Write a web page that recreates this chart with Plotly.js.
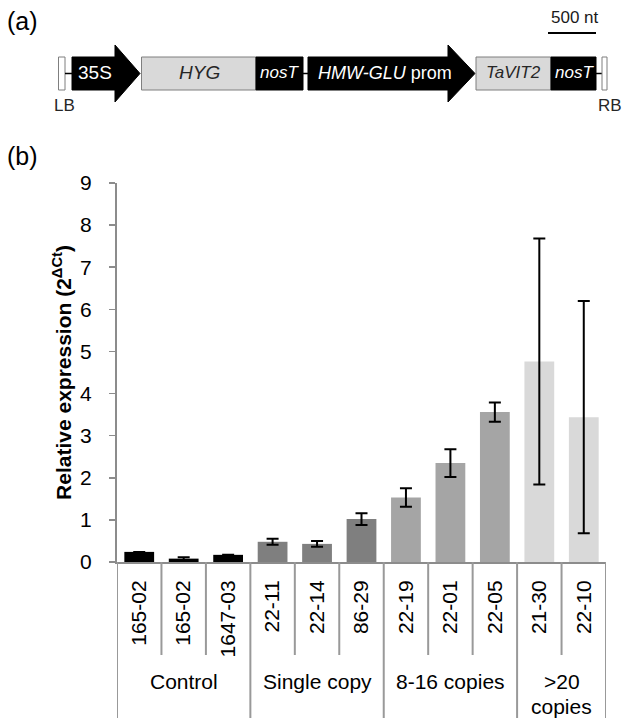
<!DOCTYPE html>
<html>
<head>
<meta charset="utf-8">
<script src="https://cdn.plot.ly/plotly-3.0.1.min.js"></script>
<style>html,body{margin:0;padding:0;background:#fff;}#chart{width:622px;height:718px;}</style>
</head>
<body>
<div id="chart"></div>
<script>
// ---- data ----
const lines = ["165-02", "165-02", "1647-03", "22-11", "22-14", "86-29", "22-19", "22-01", "22-05", "21-30", "22-10"];
const expression = [0.24, 0.08, 0.17, 0.48, 0.43, 1.02, 1.53, 2.35, 3.56, 4.76, 3.44];
const errors = [0, 0.03, 0, 0.07, 0.07, 0.14, 0.22, 0.33, 0.23, 2.92, 2.76];
const groupOfLine = ["Control", "Control", "Control", "Single copy", "Single copy", "Single copy", "8-16 copies", "8-16 copies", "8-16 copies", ">20 copies", ">20 copies"];
const groupNames = ["Control", "Single copy", "8-16 copies", ">20 copies"];
const groupLabelLines = [["Control"], ["Single copy"], ["8-16 copies"], [">20", "copies"]];
const groupColors = {"Control": "#000000", "Single copy": "#7f7f7f", "8-16 copies": "#a5a5a5", ">20 copies": "#d9d9d9"};
const yTicks = [0, 1, 2, 3, 4, 5, 6, 7, 8, 9];

// ---- layout geometry (pixels) ----
const W = 622, H = 718;
const M = {l: 117, r: 16, t: 183, b: 156};
const PW = W - M.l - M.r, PH = H - M.t - M.b;
const px = x => (x - M.l) / PW;
const py = y => (H - M.b - y) / PH;

const sans = "Liberation Sans, Arial, sans-serif";
const gridGray = "#8c8c8c";

const shapes = [];
const annotations = [];

// ---- table-like separators under the x axis ----
const groupBounds = [];
let start = 0;
for (let i = 1; i <= lines.length; i++) {
  if (i === lines.length || groupOfLine[i] !== groupOfLine[i - 1]) {
    groupBounds.push([start - 0.5, i - 0.5]);
    start = i;
  }
}
const outerEdges = new Set();
groupBounds.forEach(b => { outerEdges.add(b[0]); outerEdges.add(b[1]); });
for (let i = 0; i <= lines.length; i++) {
  const e = i - 0.5;
  const full = outerEdges.has(e);
  shapes.push({type: "line", xref: "x", yref: "paper", x0: e, x1: e, y0: 0, y1: full ? -0.5 : py(655),
    line: {color: "#999999", width: 2}, layer: "above"});
}
groupBounds.forEach((b, k) => {
  const ls = groupLabelLines[k];
  ls.forEach((t, j) => {
    annotations.push({xref: "x", yref: "paper", x: (b[0] + b[1]) / 2, y: py(681 + j * 25),
      text: t, showarrow: false, xanchor: "center", yanchor: "middle",
      font: {family: sans, size: 21, color: "#000"}});
  });
});

// ---- panel letters ----
annotations.push({xref: "paper", yref: "paper", x: px(5), y: py(21), text: "(a)", showarrow: false,
  xanchor: "left", yanchor: "middle", font: {family: sans, size: 25, color: "#000"}});
annotations.push({xref: "paper", yref: "paper", x: px(5), y: py(156), text: "(b)", showarrow: false,
  xanchor: "left", yanchor: "middle", font: {family: sans, size: 25, color: "#000"}});

// ---- construct diagram (panel a) ----
const yT = 57, yB = 90, yC = 73.5, hT = 45, hB = 102;
function rect(x0, x1, fill, lineCol) {
  shapes.push({type: "rect", xref: "paper", yref: "paper", x0: px(x0), x1: px(x1), y0: py(yB), y1: py(yT),
    fillcolor: fill, line: {color: lineCol, width: 1}});
}
function connector(x0, x1) {
  shapes.push({type: "line", xref: "paper", yref: "paper", x0: px(x0), x1: px(x1), y0: py(yC), y1: py(yC),
    line: {color: "#000", width: 1.5}});
}
function arrow(x0, xh, xt) {
  const pts = [[x0, yT], [xh, yT], [xh, hT], [xt, yC], [xh, hB], [xh, yB], [x0, yB]];
  const path = "M" + pts.map(p => px(p[0]).toFixed(5) + "," + py(p[1]).toFixed(5)).join("L") + "Z";
  shapes.push({type: "path", xref: "paper", yref: "paper", path: path, fillcolor: "#000", line: {color: "#000", width: 1}});
}
function label(x, y, text, color, size) {
  annotations.push({xref: "paper", yref: "paper", x: px(x), y: py(y), text: text, showarrow: false,
    xanchor: "center", yanchor: "middle", font: {family: sans, size: size, color: color}});
}
rect(58.5, 65, "#ffffff", "#7f7f7f");
connector(65, 72);
arrow(72, 115, 140);
rect(141.5, 256, "#d9d9d9", "#7f7f7f");
rect(256, 303, "#000000", "#000000");
connector(303, 308);
arrow(308, 448, 475);
rect(476, 551, "#d9d9d9", "#7f7f7f");
rect(551, 596, "#000000", "#000000");
connector(596, 602);
rect(602, 607, "#ffffff", "#7f7f7f");
// scale bar
shapes.push({type: "line", xref: "paper", yref: "paper", x0: px(548), x1: px(596), y0: py(33), y1: py(33),
  line: {color: "#000", width: 2}});
label(575, 17, "500 nt", "#1a1a1a", 17);
label(95, 73, "35S", "#fff", 19);
label(199, 73, "<i>HYG</i>", "#262626", 19);
label(279, 73, "<i>nosT</i>", "#fff", 17);
label(385, 73, "<i>HMW-GLU</i> prom", "#fff", 18);
label(513, 73, "<i>TaVIT2</i>", "#262626", 17);
label(574, 73, "<i>nosT</i>", "#fff", 17);
label(64, 105, "LB", "#262626", 17);
label(610, 105, "RB", "#262626", 17);

// ---- bars ----
const trace = {
  type: "bar",
  x: lines.map((_, i) => i),
  y: expression,
  marker: {color: groupOfLine.map(g => groupColors[g]), line: {width: 0}},
  error_y: {type: "data", array: errors, visible: true, color: "#000", thickness: 2, width: 6},
  hoverinfo: "y"
};

const layout = {
  width: W, height: H,
  margin: M,
  paper_bgcolor: "#fff", plot_bgcolor: "#fff",
  showlegend: false,
  bargap: 0.33,
  font: {family: sans, size: 21, color: "#000"},
  xaxis: {
    tickmode: "array", tickvals: lines.map((_, i) => i), ticktext: lines,
    range: [-0.5, lines.length - 0.5],
    tickangle: -90, ticks: "", ticklabelstandoff: 8,
    showline: true, linecolor: gridGray, linewidth: 2,
    showgrid: false, zeroline: false, fixedrange: true,
    tickfont: {family: sans, size: 21, color: "#000"}
  },
  yaxis: {
    range: [0, 9], tickmode: "array", tickvals: yTicks, ticktext: yTicks.map(String),
    ticks: "outside", ticklen: 6, tickwidth: 1.5, tickcolor: gridGray,
    ticklabelstandoff: 13,
    showline: true, linecolor: gridGray, linewidth: 2,
    showgrid: false, zeroline: false, fixedrange: true,
    tickfont: {family: sans, size: 21, color: "#000"},
    title: {text: "<b>Relative expression (2<sup>ΔCt</sup>)</b>", font: {family: sans, size: 21, color: "#000"}, standoff: 3}
  },
  shapes: shapes,
  annotations: annotations
};

Plotly.newPlot("chart", [trace], layout, {displayModeBar: false, staticPlot: true});
</script>
</body>
</html>
